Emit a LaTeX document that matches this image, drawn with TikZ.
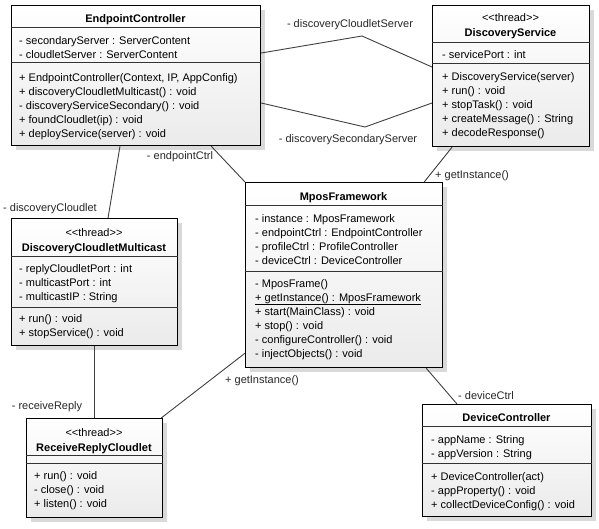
\documentclass[tikz,border=0pt]{standalone}
\usepackage{fontspec}
\setmainfont{Liberation Sans}
\usepackage{tikz}
\usetikzlibrary{
	positioning,
	calc,
	shadows
}
\usepackage{xcolor}

\newcommand{\threadtag}{{<}{<}thread{>}{>}}

\begin{document}
\begin{tikzpicture}[
		x=1pt, y=-1pt,
		font=\fontsize{11}{14}\selectfont,
		umlclass/.style={
			draw,
			anchor=north west,
			line width=1.2pt,
			top color=white,
			bottom color=gray!16,
			drop shadow={opacity=0.3, shadow xshift=4pt, shadow yshift=-4pt},
			inner sep=0pt
		},
		divider/.style={
			draw=black!80,
			line width=0.8pt
		},
		title/.style={
			anchor=base,
			inner sep=0pt,
			font=\fontsize{11}{14}\selectfont\bfseries
		},
		stereo/.style={
			anchor=base,
			inner sep=0pt
		},
		members/.style={
			anchor=base west,
			align=left,
			inner sep=0pt
		},
		assoc/.style={
			draw=black!75,
			line width=0.9pt
		},
		role/.style={
			inner sep=0pt,
			text=black!85
		}
		]
		
		\useasboundingbox (0,0) rectangle (599,528);
		
		% EndpointController
		\node[umlclass, minimum width=249pt, minimum height=140pt] (ec) at (11,5) {};
		\draw[divider] ([yshift=-22pt]ec.north west) -- ([yshift=-22pt]ec.north east);
		\draw[divider] ([yshift=-57pt]ec.north west) -- ([yshift=-57pt]ec.north east);
		\node[title] (ec-name) at (135.5,22) {EndpointController};
		\node[members] (ec-attr) at (19,58) {- secondaryServer : ServerContent\\- cloudletServer : ServerContent};
		\node[members] (ec-ops) at (19,137) {+ EndpointController(Context, IP, AppConfig)\\+ discoveryCloudletMulticast() : void\\- discoveryServiceSecondary() : void\\+ foundCloudlet(ip) : void\\+ deployService(server) : void};
		
		% DiscoveryService
		\node[umlclass, minimum width=157pt, minimum height=141pt] (ds) at (432,5) {};
		\draw[divider] ([yshift=-37pt]ds.north west) -- ([yshift=-37pt]ds.north east);
		\draw[divider] ([yshift=-58pt]ds.north west) -- ([yshift=-58pt]ds.north east);
		\node[stereo] (ds-st) at (510.5,21) {\threadtag};
		\node[title] (ds-name) at (510.5,36) {DiscoveryService};
		\node[members] (ds-attr) at (442,58) {- servicePort : int};
		\node[members] (ds-ops) at (442,136) {+ DiscoveryService(server)\\+ run() : void\\+ stopTask() : void\\+ createMessage() : String\\+ decodeResponse()};
		
		% MposFramework
		\node[umlclass, minimum width=197pt, minimum height=185pt] (mpos) at (245,182) {};
		\draw[divider] ([yshift=-23pt]mpos.north west) -- ([yshift=-23pt]mpos.north east);
		\draw[divider] ([yshift=-89pt]mpos.north west) -- ([yshift=-89pt]mpos.north east);
		\node[title] (mpos-name) at (343.5,200) {MposFramework};
		\node[members] (mpos-attr) at (255,264) {- instance : MposFramework\\- endpointCtrl : EndpointController\\- profileCtrl : ProfileController\\- deviceCtrl : DeviceController};
		\node[members] (mpos-ops) at (255,357) {- MposFrame()\\\underline{+ getInstance() : MposFramework}\\+ start(MainClass) : void\\+ stop() : void\\- configureController() : void\\- injectObjects() : void};
		
		% DiscoveryCloudletMulticast
		\node[umlclass, minimum width=166pt, minimum height=127pt] (dcm) at (11,218) {};
		\draw[divider] ([yshift=-38pt]dcm.north west) -- ([yshift=-38pt]dcm.north east);
		\draw[divider] ([yshift=-89pt]dcm.north west) -- ([yshift=-89pt]dcm.north east);
		\node[stereo] (dcm-st) at (94,236) {\threadtag};
		\node[title] (dcm-name) at (94,251) {DiscoveryCloudletMulticast};
		\node[members] (dcm-attr) at (19,300) {- replyCloudletPort : int\\- multicastPort : int\\- multicastIP : String};
		\node[members] (dcm-ops) at (19,336) {+ run() : void\\+ stopService() : void};
		
		% ReceiveReplyCloudlet
		\node[umlclass, minimum width=136pt, minimum height=99pt] (rrc) at (26,418) {};
		\draw[divider] ([yshift=-37pt]rrc.north west) -- ([yshift=-37pt]rrc.north east);
		\draw[divider] ([yshift=-45pt]rrc.north west) -- ([yshift=-45pt]rrc.north east);
		\node[stereo] (rrc-st) at (94,436) {\threadtag};
		\node[title] (rrc-name) at (94,451) {ReceiveReplyCloudlet};
		\node[members] (rrc-ops) at (34,507) {+ run() : void\\- close() : void\\+ listen() : void};
		
		% DeviceController
		\node[umlclass, minimum width=169pt, minimum height=112pt] (dc) at (422,404) {};
		\draw[divider] ([yshift=-22pt]dc.north west) -- ([yshift=-22pt]dc.north east);
		\draw[divider] ([yshift=-59pt]dc.north west) -- ([yshift=-59pt]dc.north east);
		\node[title] (dc-name) at (506.5,421) {DeviceController};
		\node[members] (dc-attr) at (431,457) {- appName : String\\- appVersion : String};
		\node[members] (dc-ops) at (431,508) {+ DeviceController(act)\\- appProperty() : void\\+ collectDeviceConfig() : void};
		
		% Associations
		\coordinate (bend-top) at (362,36);
		\coordinate (bend-low) at (365,127);
		\draw[assoc] ([yshift=-48pt]ec.north east) -- (bend-top) -- ([yshift=-62pt]ds.north west);
		\draw[assoc] ([yshift=-98pt]ec.north east) -- (bend-low) -- ([yshift=-98pt]ds.north west);
		\draw[assoc] ([xshift=-50pt]ec.south east) -- (mpos.north west);
		\draw[assoc] ([xshift=109pt]ec.south west) -- ([xshift=97pt]dcm.north west);
		\draw[assoc] ([xshift=83pt]dcm.south west) -- ([xshift=68pt]rrc.north west);
		\draw[assoc] ([xshift=-2pt]rrc.north east) -- ([yshift=15pt]mpos.south west);
		\draw[assoc] ([xshift=20pt]ds.south west) -- ([xshift=-19pt]mpos.north east);
		\draw[assoc] ([xshift=-17pt]mpos.south east) -- ([xshift=35pt]dc.north west);
		
		% Roles
		\node[role] (r-cloudlet-server) at (350,25) {- discoveryCloudletServer};
		\node[role] (r-secondary-server) at (348,140) {- discoverySecondaryServer};
		\node[role] (r-endpoint) at (180,157) {- endpointCtrl};
		\node[role] (r-discovery) at (50,209) {- discoveryCloudlet};
		\node[role] (r-receive) at (47,407) {- receiveReply};
		\node[role] (r-inst-rrc) at (262,381) {+ getInstance()};
		\node[role] (r-inst-ds) at (472,176) {+ getInstance()};
		\node[role] (r-device) at (486,396) {- deviceCtrl};
		
	\end{tikzpicture}
\end{document}
